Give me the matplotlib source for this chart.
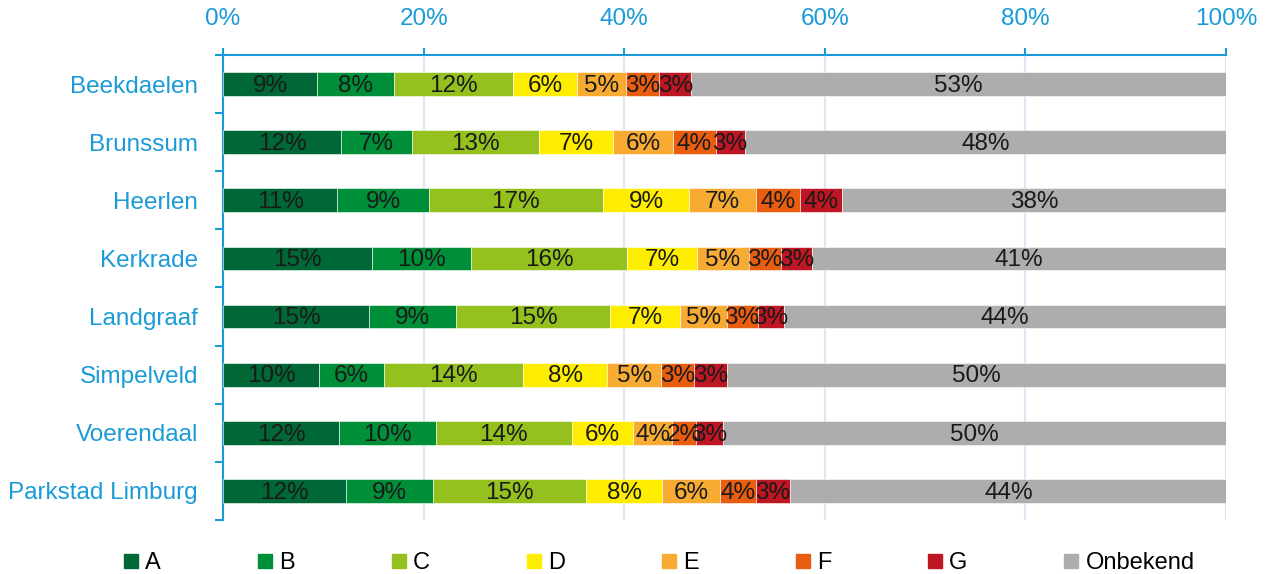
import matplotlib.pyplot as plt
from matplotlib.lines import Line2D
import numpy as np

plt.rcParams['font.family'] = ['Liberation Sans', 'DejaVu Sans']

# Gemeenten (top to bottom)
gemeenten = ['Beekdaelen', 'Brunssum', 'Heerlen', 'Kerkrade', 'Landgraaf',
             'Simpelveld', 'Voerendaal', 'Parkstad Limburg']

# Share per energy label (%)
label_a = [9.4, 11.8, 11.4, 14.9, 14.6, 9.6, 11.6, 12.3]
label_b = [7.6, 7.0, 9.1, 9.8, 8.6, 6.4, 9.6, 8.6]
label_c = [11.9, 12.7, 17.4, 15.6, 15.4, 13.9, 13.6, 15.3]
label_d = [6.4, 7.4, 8.6, 7.0, 7.0, 8.4, 6.1, 7.6]
label_e = [4.9, 6.0, 6.6, 5.1, 4.6, 5.4, 3.9, 5.7]
label_f = [3.3, 4.2, 4.4, 3.2, 3.1, 3.3, 2.4, 3.6]
label_g = [3.2, 2.9, 4.2, 3.1, 2.6, 3.2, 2.6, 3.4]
onbekend = [53.3, 48.0, 38.3, 41.3, 44.1, 49.8, 50.2, 43.6]

series_names = ['A', 'B', 'C', 'D', 'E', 'F', 'G', 'Onbekend']
series_vals = [label_a, label_b, label_c, label_d, label_e, label_f, label_g, onbekend]
colors = ['#006837', '#008f39', '#95c11f', '#ffed00', '#f7ab33',
          '#e85d0f', '#be1622', '#adadad']

blue = '#1a9bd7'

fig = plt.figure(figsize=(12.68, 5.74), dpi=100)
ax = fig.add_axes([0.1759, 0.0941, 0.7910, 0.8101])

y = np.arange(len(gemeenten))
left = np.zeros(len(gemeenten))
for name, vals, col in zip(series_names, series_vals, colors):
    vals = np.array(vals)
    ax.barh(y, vals, left=left, height=0.41, color=col, edgecolor='white',
            linewidth=0.4, zorder=3, label=name)
    for yi, l, v in zip(y, left, vals):
        ax.text(l + v / 2, yi + 0.03, f'{v:.0f}%', ha='center', va='center',
                fontsize=17.5, color='#1a1a1a', zorder=4)
    left += vals

ax.set_xlim(0, 100)
ax.set_ylim(len(gemeenten) - 0.5, -0.5)

# top x axis
ax.xaxis.tick_top()
ax.set_xticks(np.arange(0, 101, 20))
ax.set_xticklabels([f'{t}%' for t in range(0, 101, 20)])
ax.tick_params(axis='x', direction='out', length=5, width=1.5, color=blue,
               labelcolor=blue, labelsize=17.5, pad=13)
ax.grid(axis='x', color='#dde7f3', linewidth=1.5, zorder=0)

# left y axis: labels at centres, ticks at boundaries
ax.set_yticks(y)
ax.set_yticklabels(gemeenten)
ax.set_yticks(np.arange(-0.5, len(gemeenten)), minor=True)
ax.tick_params(axis='y', which='major', length=0, labelcolor=blue,
               labelsize=17.5, pad=18)
ax.tick_params(axis='y', which='minor', direction='out', length=6,
               width=1.5, color=blue)

for side in ['right', 'bottom']:
    ax.spines[side].set_visible(False)
for side in ['top', 'left']:
    ax.spines[side].set_color(blue)
    ax.spines[side].set_linewidth(1.5)

handles = [Line2D([], [], marker='s', linestyle='', color=c, markersize=9.5)
           for c in colors]
fig.legend(handles, series_names, loc='center', bbox_to_anchor=(0.52, 0.019),
           ncol=8, frameon=False, fontsize=17, handlelength=0.6,
           handletextpad=0.3, columnspacing=4.1)

fig.savefig('out.png', dpi=100)
